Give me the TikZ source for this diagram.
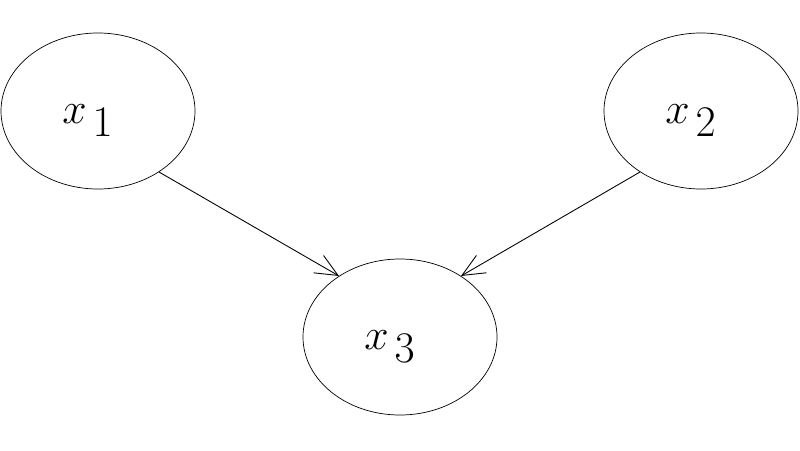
\documentclass[tikz,border=0pt]{standalone}
\usetikzlibrary{shapes.geometric,arrows.meta}
\begin{document}
\begin{tikzpicture}[
  var/.style={draw, ellipse, minimum width=3.88cm, minimum height=3.12cm, inner sep=0pt},
  lab/.style={font=\fontsize{28}{32}\selectfont},
  link/.style={-{Straight Barb[length=4.5mm,width=4mm,line width=0.5pt]}, line width=0.5pt}]
\useasboundingbox (0,0) rectangle (16,9);
\node[var] (x1) at (1.96,6.78) {};
\node[var] (x2) at (14.02,6.78) {};
\node[var] (x3) at (8.0,2.26) {};
\node[lab] (t1) at ([shift={(-0.2,-0.2)}]x1.center) {$x_{\,\textstyle 1}$};
\node[lab] (t2) at ([shift={(-0.2,-0.2)}]x2.center) {$x_{\,\textstyle 2}$};
\node[lab] (t3) at ([shift={(-0.2,-0.2)}]x3.center) {$x_{\,\textstyle 3}$};
\draw[link] (x1.-45) -- (x3.135);
\draw[link] (x2.-135) -- (x3.45);
\end{tikzpicture}
\end{document}
